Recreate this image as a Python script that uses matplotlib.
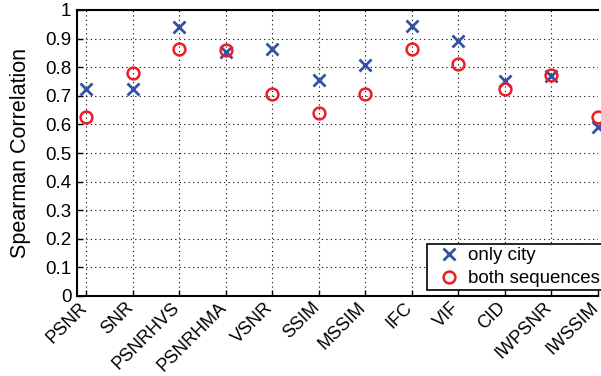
import matplotlib
matplotlib.use("Agg")
import matplotlib.pyplot as plt
import matplotlib.transforms as mtransforms
import numpy as np

plt.rcParams['font.family'] = ['Liberation Sans', 'DejaVu Sans']

metrics = ["PSNR", "SNR", "PSNRHVS", "PSNRHMA", "VSNR", "SSIM", "MSSIM",
           "IFC", "VIF", "CID", "IWPSNR", "IWSSIM"]
only_city = [0.723, 0.723, 0.942, 0.854, 0.862, 0.755, 0.809,
             0.945, 0.890, 0.753, 0.769, 0.590]
both_sequences = [0.625, 0.779, 0.865, 0.860, 0.705, 0.641, 0.707,
                  0.862, 0.812, 0.723, 0.772, 0.625]
yticks = [0, 0.1, 0.2, 0.3, 0.4, 0.5, 0.6, 0.7, 0.8, 0.9, 1]
ytick_labels = ["0", "0.1", "0.2", "0.3", "0.4", "0.5", "0.6", "0.7", "0.8", "0.9", "1"]

fig = plt.figure(figsize=(6.01, 3.76), dpi=100)
ax = fig.add_axes([77/601, 1-296/376, (598-77)/601, (296-10)/376])
x = np.arange(1, len(metrics)+1)
ax.plot(x, only_city, linestyle='none', marker='x', markersize=8.5, markeredgewidth=2,
        color='#3451a3', label='only city', clip_on=False, zorder=3)
ax.plot(x, both_sequences, linestyle='none', marker='o', markersize=8.5, markeredgewidth=1.8,
        markerfacecolor='none', markeredgecolor='#ee1c25', label='both sequences', clip_on=False, zorder=3)

ax.set_xlim(0.8, 12)
ax.set_ylim(0, 1)
ax.set_xticks(x)
ax.set_xticklabels([])
# rotated category labels, placed just below each tick
offset = mtransforms.ScaledTranslation(-8/100, -3/100, fig.dpi_scale_trans)
for xi, name in zip(x, metrics):
    ax.text(xi, 0, name, transform=ax.get_xaxis_transform() + offset,
            rotation=45, ha='right', va='top', rotation_mode='anchor', fontsize=13)
ax.set_yticks(yticks)
ax.set_yticklabels(ytick_labels, fontsize=13.5)
ax.tick_params(direction='in', length=4, width=1, top=False, right=False, pad=4)
ax.grid(True, linestyle=(0, (1, 3)), color='black', linewidth=0.8)
for s in ax.spines.values():
    s.set_linewidth(1.5)
ax.spines['right'].set_visible(False)
ax.set_ylabel('Spearman Correlation', fontsize=15.5, labelpad=10)

leg = ax.legend(loc='lower left', bbox_to_anchor=((427-77)/521, 0.021), fontsize=13.5,
                frameon=True, fancybox=False, edgecolor='black', framealpha=1,
                handlelength=2.0, handletextpad=0.05, borderpad=0.15, labelspacing=0.3,
                borderaxespad=0)
leg.get_frame().set_linewidth(1.2)

fig.savefig('out.png', dpi=100)
